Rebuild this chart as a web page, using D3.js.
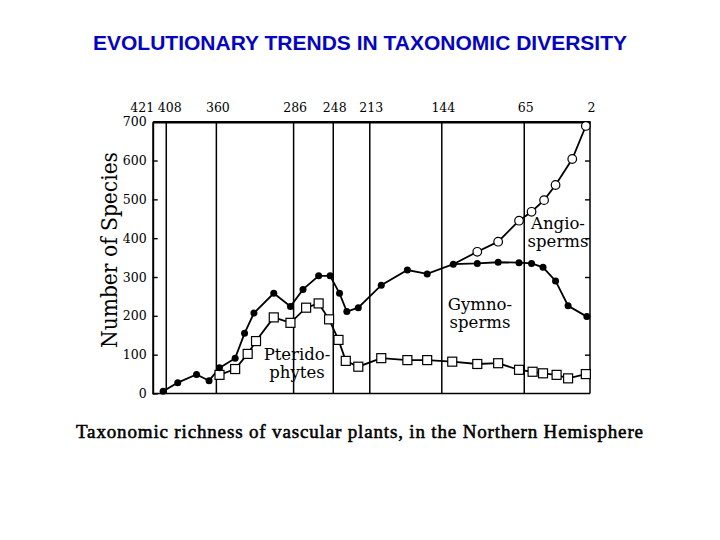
<!DOCTYPE html>
<html>
<head>
<meta charset="utf-8">
<script src="https://cdn.jsdelivr.net/npm/d3@7"></script>
<style>
  body { margin: 0; background: #fff; }
  svg { display: block; }
</style>
</head>
<body>
<svg id="chart" width="720" height="540"></svg>
<script>
// Period boundaries along the top (millions of years ago)
const boundaryTicks = [421, 408, 360, 286, 248, 213, 144, 65, 2];
const yTicks = [0, 100, 200, 300, 400, 500, 600, 700];

// Gymnosperms (filled circles)
const gymnoAge = [411, 397, 379, 367, 357, 342, 333, 324, 305, 289, 277, 262, 251, 242, 235, 224, 202, 177, 158, 133, 110, 90, 70, 58, 47, 35, 23, 5];
const gymnoCount = [6, 28, 49, 33, 66, 91, 155, 207, 258, 224, 268, 303, 303, 258, 211, 221, 279, 318, 308, 333, 335, 338, 337, 335, 325, 290, 226, 198];

// Pteridophytes (open squares)
const pteridoAge = [357, 342, 330, 322, 305, 289, 274, 262, 252, 243, 236, 224, 202, 177, 158, 134, 110, 90, 70, 57, 47, 34, 23, 6];
const pteridoCount = [48, 63, 102, 135, 196, 182, 221, 232, 191, 138, 84, 69, 91, 86, 86, 82, 76, 78, 61, 56, 52, 48, 39, 50];

// Angiosperms (open circles), branching off the gymnosperm curve at 133
const angioAge = [133, 110, 90, 70, 58, 46, 35, 19, 6];
const angioCount = [333, 365, 391, 445, 468, 498, 537, 604, 689];

const svg = d3.select('#chart');
const serif = '"DejaVu Serif", serif';

const x = d3.scaleLinear().domain([421, 2]).range([152.7, 590]);
const y = d3.scaleLinear().domain([0, 700]).range([393.5, 121.7]);

// Title
svg.append('text')
  .attr('x', 360)
  .attr('y', 50)
  .attr('text-anchor', 'middle')
  .attr('font-family', '"Liberation Sans", Arial, sans-serif')
  .attr('font-size', 21)
  .attr('font-weight', 'bold')
  .attr('fill', '#0505c0')
  .text('EVOLUTIONARY TRENDS IN TAXONOMIC DIVERSITY');

const g = svg.append('g');

// Period lines
g.selectAll('.period')
  .data(boundaryTicks.slice(1, -1))
  .enter()
  .append('line')
  .attr('class', 'period')
  .attr('x1', (d) => x(d))
  .attr('x2', (d) => x(d))
  .attr('y1', y(700))
  .attr('y2', y(0))
  .attr('stroke', '#000')
  .attr('stroke-width', 1.5);

// Right and bottom frame
g.append('line')
  .attr('x1', x(2)).attr('x2', x(2))
  .attr('y1', y(700)).attr('y2', y(0))
  .attr('stroke', '#000').attr('stroke-width', 1.5);
g.append('line')
  .attr('x1', x(421)).attr('x2', x(2))
  .attr('y1', y(0)).attr('y2', y(0))
  .attr('stroke', '#000').attr('stroke-width', 1.6);

// Axes
const leftAxis = g.append('g')
  .attr('transform', `translate(${x(421)},0)`)
  .call(d3.axisLeft(y).tickValues(yTicks).tickSizeInner(-5).tickSizeOuter(0).tickPadding(6));

const rightAxis = g.append('g')
  .attr('transform', `translate(${x(2)},0)`)
  .call(d3.axisRight(y).tickValues(yTicks.slice(1, -1)).tickSizeInner(-5).tickSizeOuter(0).tickFormat(''));

const topAxis = g.append('g')
  .attr('transform', `translate(0,${y(700)})`)
  .call(d3.axisTop(x).tickValues(boundaryTicks).tickSize(0).tickPadding(10));

[leftAxis, rightAxis, topAxis].forEach((a) => {
  a.selectAll('text')
    .attr('font-family', serif)
    .attr('font-size', 12.5)
    .attr('fill', '#000');
  a.selectAll('line').attr('stroke', '#000').attr('stroke-width', 1.4);
});
leftAxis.select('.domain').attr('stroke-width', 2);
rightAxis.select('.domain').remove();
topAxis.select('.domain').attr('stroke-width', 2.6);
topAxis.selectAll('.tick text').attr('dx', (d) => {
  if (d === 421) return -11;
  if (d === 408) return 3;
  return 1;
});

// Lines
const line = d3.line()
  .x((d) => x(d[0]))
  .y((d) => y(d[1]));

function series(ages, counts) {
  return ages.map((a, i) => [a, counts[i]]);
}

const angio = series(angioAge, angioCount);
const gymno = series(gymnoAge, gymnoCount);
const pterido = series(pteridoAge, pteridoCount);

[pterido, angio, gymno].forEach((s) => {
  g.append('path')
    .datum(s)
    .attr('d', line)
    .attr('fill', 'none')
    .attr('stroke', '#000')
    .attr('stroke-width', 1.8);
});

// Markers
g.selectAll('.pterido')
  .data(pterido)
  .enter()
  .append('rect')
  .attr('class', 'pterido')
  .attr('x', (d) => x(d[0]) - 4.5)
  .attr('y', (d) => y(d[1]) - 4.5)
  .attr('width', 9)
  .attr('height', 9)
  .attr('fill', '#fff')
  .attr('stroke', '#000')
  .attr('stroke-width', 1.2);

// first angiosperm point is the shared gymnosperm point, drawn filled
g.selectAll('.angio')
  .data(angio.slice(1))
  .enter()
  .append('circle')
  .attr('class', 'angio')
  .attr('cx', (d) => x(d[0]))
  .attr('cy', (d) => y(d[1]))
  .attr('r', 4.3)
  .attr('fill', '#fff')
  .attr('stroke', '#000')
  .attr('stroke-width', 1.2);

g.selectAll('.gymno')
  .data(gymno)
  .enter()
  .append('circle')
  .attr('class', 'gymno')
  .attr('cx', (d) => x(d[0]))
  .attr('cy', (d) => y(d[1]))
  .attr('r', 3.5)
  .attr('fill', '#000');

// Group labels
function groupLabel(lines, cx, baseline, gap) {
  const t = g.append('text')
    .attr('font-family', serif)
    .attr('font-size', 16.5)
    .attr('text-anchor', 'middle')
    .attr('fill', '#000');
  lines.forEach((s, i) => {
    t.append('tspan')
      .attr('x', cx)
      .attr('y', baseline + i * gap)
      .text(s);
  });
}
groupLabel(['Pterido-', 'phytes'], 297, 360, 17.5);
groupLabel(['Gymno-', 'sperms'], 480, 310, 17.5);
groupLabel(['Angio-', 'sperms'], 558, 229, 17.5);

// Y label
svg.append('text')
  .attr('transform', `translate(117,${(152 + 348) / 2}) rotate(-90)`)
  .attr('text-anchor', 'middle')
  .attr('font-family', serif)
  .attr('font-size', 22)
  .attr('textLength', 196)
  .attr('lengthAdjust', 'spacingAndGlyphs')
  .text('Number of Species');

// Caption
svg.append('text')
  .attr('x', 76)
  .attr('y', 438)
  .attr('font-family', '"Liberation Serif", "Times New Roman", serif')
  .attr('font-size', 19)
  .attr('stroke', '#000')
  .attr('stroke-width', 0.55)
  .attr('textLength', 567)
  .attr('lengthAdjust', 'spacing')
  .text('Taxonomic richness of vascular plants, in the Northern Hemisphere');
</script>
</body>
</html>
